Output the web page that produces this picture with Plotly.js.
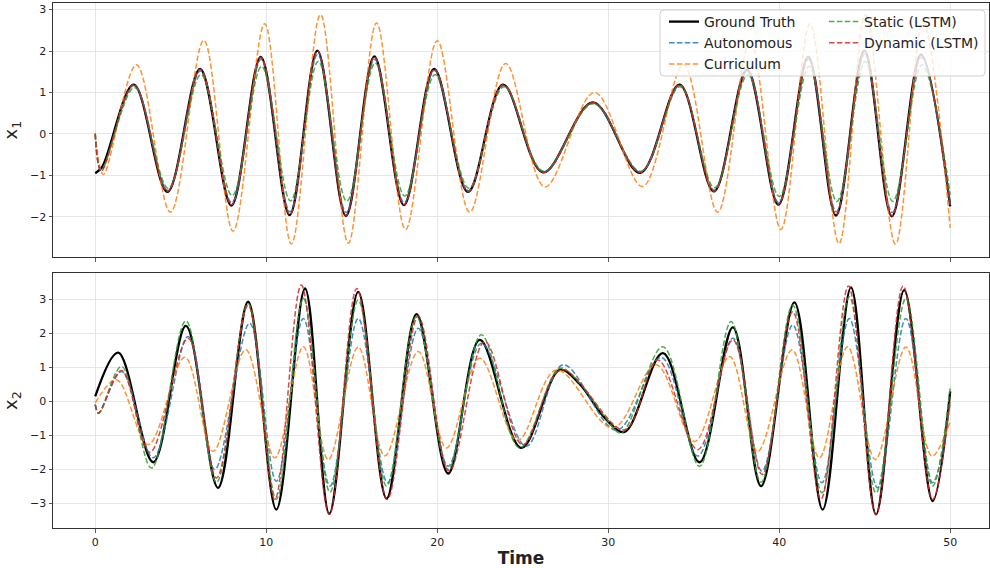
<!DOCTYPE html>
<html><head><meta charset="utf-8">
<script src="https://cdn.plot.ly/plotly-3.0.1.min.js"></script>
<style>html,body{margin:0;padding:0;background:#fff}#chart{width:990px;height:568px}</style>
</head><body><div id="chart"></div>
<script>
// ---------- Panel x1 ----------
const t_x1_truth = [0, 0.4, 2.25, 4.22, 6.13, 7.96, 9.68, 11.37, 12.99, 14.66, 16.32, 18.05, 19.82, 21.8, 23.85, 26.19, 29.1, 31.87, 34.17, 36.18, 38.12, 39.95, 41.7, 43.32, 44.98, 46.59, 48.29, 50];
const x1_truth   = [-0.95, -0.8, 1.19, -1.40, 1.57, -1.73, 1.86, -1.96, 2.01, -1.98, 1.87, -1.72, 1.57, -1.40, 1.19, -0.93, 0.76, -0.94, 1.19, -1.39, 1.55, -1.71, 1.86, -1.97, 2.01, -1.99, 1.91, -1.75];

const t_x1_auto = [0, 0.35, 2.27, 4.24, 6.15, 7.98, 9.70, 11.39, 13.01, 14.68, 16.34, 18.07, 19.84, 21.82, 23.87, 26.2, 29.1, 31.88, 34.18, 36.2, 38.14, 39.97, 41.72, 43.34, 45.0, 46.61, 48.31, 50];
const x1_auto   = [0.0, -0.88, 1.17, -1.36, 1.52, -1.66, 1.80, -1.88, 1.92, -1.90, 1.80, -1.66, 1.53, -1.37, 1.17, -0.92, 0.75, -0.92, 1.17, -1.36, 1.52, -1.66, 1.80, -1.88, 1.93, -1.90, 1.84, -1.72];

const t_x1_curr = [0, 0.47, 2.41, 4.4, 6.35, 8.06, 9.91, 11.47, 13.17, 14.8, 16.45, 18.15, 20.0, 21.9, 24.0, 26.3, 29.2, 32.0, 34.4, 36.4, 38.3, 40.1, 41.8, 43.5, 45.05, 46.8, 48.4, 50];
const x1_curr   = [0.02, -0.98, 1.67, -1.89, 2.26, -2.35, 2.66, -2.66, 2.88, -2.64, 2.68, -2.31, 2.25, -1.89, 1.70, -1.28, 1.00, -1.27, 1.67, -1.89, 2.25, -2.31, 2.66, -2.65, 2.88, -2.66, 2.70, -2.27];

const t_x1_static = [0, 0.35, 2.3, 4.27, 6.18, 8.01, 9.73, 11.42, 13.04, 14.71, 16.37, 18.1, 19.87, 21.85, 23.9, 26.22, 29.12, 31.9, 34.2, 36.22, 38.16, 40.0, 41.75, 43.37, 45.03, 46.64, 48.34, 50];
const x1_static   = [0.0, -0.86, 1.12, -1.31, 1.43, -1.49, 1.63, -1.62, 1.75, -1.63, 1.71, -1.50, 1.43, -1.31, 1.14, -0.90, 0.73, -0.90, 1.14, -1.30, 1.43, -1.51, 1.63, -1.63, 1.75, -1.63, 1.67, -1.47];

const t_x1_dyn = [0, 0.35, 2.26, 4.23, 6.14, 7.97, 9.69, 11.38, 13.0, 14.67, 16.33, 18.06, 19.83, 21.81, 23.86, 26.2, 29.1, 31.88, 34.18, 36.19, 38.13, 39.96, 41.71, 43.33, 44.99, 46.6, 48.3, 50];
const x1_dyn   = [0.0, -0.9, 1.19, -1.39, 1.56, -1.71, 1.85, -1.95, 2.0, -1.97, 1.86, -1.71, 1.56, -1.39, 1.19, -0.93, 0.76, -0.93, 1.19, -1.39, 1.55, -1.70, 1.86, -1.96, 2.0, -1.98, 1.90, -1.74];

// ---------- Panel x2 ----------
const t_x2_truth = [0, 1.34, 3.39, 5.3, 7.18, 8.94, 10.59, 12.27, 13.69, 15.38, 17.04, 18.79, 20.64, 22.49, 24.92, 27.16, 28.3, 29.8, 30.96, 33.2, 35.34, 37.29, 38.94, 40.89, 42.54, 44.2, 45.66, 47.31, 48.97, 50];
const x2_truth   = [0.14, 1.43, -1.79, 2.21, -2.54, 2.92, -3.18, 3.31, -3.30, 3.21, -2.86, 2.56, -2.12, 1.80, -1.37, 0.92, 0.52, -0.49, -0.90, 1.41, -1.79, 2.17, -2.49, 2.90, -3.18, 3.34, -3.32, 3.26, -2.93, 0.29];

const t_x2_auto = [0, 0.2, 1.54, 3.39, 5.43, 6.99, 9.03, 10.59, 12.17, 13.73, 15.38, 17.1, 18.89, 20.64, 22.58, 25.2, 27.36, 30.5, 33.1, 35.24, 37.29, 38.99, 40.79, 42.5, 44.1, 45.75, 47.41, 48.97, 50];
const x2_auto   = [-0.1, -0.35, 0.87, -1.66, 1.90, -2.0, 2.29, -2.35, 2.43, -2.49, 2.43, -2.39, 2.14, -1.91, 1.70, -1.32, 1.07, -0.85, 1.29, -1.61, 1.85, -2.05, 2.24, -2.39, 2.43, -2.54, 2.43, -2.39, -0.05];

const t_x2_curr = [0, 1.25, 3.1, 5.24, 6.89, 8.8, 10.5, 12.17, 13.63, 15.38, 16.94, 18.89, 20.54, 22.49, 24.7, 26.97, 30.28, 32.8, 35.05, 37.1, 38.74, 40.75, 42.35, 44.0, 45.62, 47.41, 48.93, 50];
const x2_curr   = [-0.05, 0.63, -1.27, 1.29, -1.47, 1.51, -1.66, 1.60, -1.71, 1.59, -1.60, 1.46, -1.37, 1.26, -1.15, 0.92, -0.78, 1.07, -1.18, 1.31, -1.47, 1.51, -1.66, 1.60, -1.71, 1.59, -1.61, -0.59];

const t_x2_static = [0, 0.2, 1.54, 3.29, 5.3, 7.09, 8.94, 10.59, 12.17, 13.73, 15.38, 17.04, 18.79, 20.64, 22.58, 24.82, 27.16, 28.3, 29.8, 30.76, 33.2, 35.34, 37.19, 38.94, 40.79, 42.5, 44.1, 45.66, 47.41, 48.97, 50];
const x2_static   = [-0.1, -0.35, 1.02, -1.96, 2.36, -2.38, 2.87, -2.88, 3.02, -2.67, 2.97, -2.49, 2.48, -2.0, 1.95, -1.37, 0.97, 0.55, -0.45, -0.93, 1.60, -1.91, 2.34, -2.38, 2.82, -2.69, 3.07, -2.69, 3.02, -2.49, 0.39];

const t_x2_dyn = [0, 0.2, 1.54, 3.19, 5.43, 7.09, 8.94, 10.5, 12.05, 13.69, 15.3, 17.08, 18.89, 20.7, 22.78, 25.0, 27.26, 30.96, 32.9, 35.24, 37.29, 39.0, 40.79, 42.44, 44.05, 45.66, 47.25, 48.97, 50];
const x2_dyn   = [-0.1, -0.35, 0.90, -1.50, 1.85, -2.25, 2.82, -2.88, 3.41, -3.32, 3.31, -2.88, 2.50, -2.05, 1.75, -1.28, 0.92, -0.84, 1.21, -1.42, 1.80, -2.15, 2.63, -2.88, 3.38, -3.32, 3.38, -2.88, 0.05];

const seriesNames = ["Ground Truth", "Autonomous", "Curriculum", "Static (LSTM)", "Dynamic (LSTM)"];
const seriesColors = ["#000000", "#1f77b4", "#ff7f0e", "#2ca02c", "#d62728"];
const xTicks = [0, 10, 20, 30, 40, 50];
const y1Ticks = [-2, -1, 0, 1, 2, 3];
const y2Ticks = [-3, -2, -1, 0, 1, 2, 3];

const panels = [
  {xa: 'x', ya: 'y', data: [[t_x1_truth, x1_truth], [t_x1_auto, x1_auto], [t_x1_curr, x1_curr], [t_x1_static, x1_static], [t_x1_dyn, x1_dyn]]},
  {xa: 'x2', ya: 'y2', data: [[t_x2_truth, x2_truth], [t_x2_auto, x2_auto], [t_x2_curr, x2_curr], [t_x2_static, x2_static], [t_x2_dyn, x2_dyn]]}
];

const traces = [];
panels.forEach((p, pi) => {
  p.data.forEach((d, si) => {
    const gt = si === 0;
    traces.push({
      type: 'scatter', mode: 'lines', x: d[0], y: d[1],
      xaxis: p.xa, yaxis: p.ya,
      name: seriesNames[si],
      legend: si >= 3 ? 'legend2' : 'legend',
      showlegend: pi === 0,
      opacity: gt ? 1 : 0.85,
      line: {color: seriesColors[si], width: gt ? 2.3 : 1.5, dash: gt ? 'solid' : '5.5px,2.4px', shape: 'spline', smoothing: 1},
      hoverinfo: 'skip'
    });
  });
});

const F = 'DejaVu Sans, Verdana, sans-serif';
const axCommon = {
  showline: true, mirror: true, linecolor: '#333', linewidth: 1,
  ticks: 'outside', ticklen: 3.5, tickwidth: 0.8, tickcolor: '#333',
  showgrid: true, gridcolor: '#e6e6e6', gridwidth: 1, zeroline: false,
  tickfont: {family: F, size: 11, color: '#222'}
};

// legend frame box (paper coords)
const W = 936, H = 525, L = 53, T = 3;
function px2x(px) { return (px - L) / W; }
function py2y(py) { return (T + H - py) / H; }
const bx0 = px2x(660), bx1 = px2x(985), by0 = py2y(76), by1 = py2y(10);
const rx = 4 / W, ry = 4 / H;
const boxPath = `M${bx0 + rx},${by1} L${bx1 - rx},${by1} Q${bx1},${by1} ${bx1},${by1 - ry} L${bx1},${by0 + ry} Q${bx1},${by0} ${bx1 - rx},${by0} L${bx0 + rx},${by0} Q${bx0},${by0} ${bx0},${by0 + ry} L${bx0},${by1 - ry} Q${bx0},${by1} ${bx0 + rx},${by1} Z`;

const layout = {
  width: 990, height: 568,
  margin: {l: 53, r: 1, t: 3, b: 40},
  paper_bgcolor: '#fff', plot_bgcolor: '#fff',
  font: {family: F, color: '#222'},
  xaxis: Object.assign({}, axCommon, {domain: [0, 1], anchor: 'y', range: [-2.47, 52.27], tickvals: xTicks, showticklabels: false}),
  yaxis: Object.assign({}, axCommon, {domain: [0.5156, 1], anchor: 'x', range: [-2.98, 3.16], tickvals: y1Ticks,
    ticktext: y1Ticks.map(v => v < 0 ? '\u2212' + Math.abs(v) : String(v)),
    title: {text: 'x<sub>1</sub>', font: {family: F, size: 18, color: '#222'}, standoff: 14}}),
  xaxis2: Object.assign({}, axCommon, {domain: [0, 1], anchor: 'y2', range: [-2.47, 52.27], tickvals: xTicks,
    title: {text: '<b>Time</b>', font: {family: F, size: 17, color: '#222'}, standoff: 9}}),
  yaxis2: Object.assign({}, axCommon, {domain: [0, 0.4851], anchor: 'x2', range: [-3.72, 3.755], tickvals: y2Ticks,
    ticktext: y2Ticks.map(v => v < 0 ? '\u2212' + Math.abs(v) : String(v)),
    title: {text: 'x<sub>2</sub>', font: {family: F, size: 18, color: '#222'}, standoff: 14}}),
  legend: {x: px2x(664), xanchor: 'left', y: py2y(6), yanchor: 'top', orientation: 'v',
    bgcolor: 'rgba(0,0,0,0)', borderwidth: 0, font: {family: F, size: 14, color: '#222'}, tracegroupgap: 0},
  legend2: {x: px2x(824), xanchor: 'left', y: py2y(6), yanchor: 'top', orientation: 'v',
    bgcolor: 'rgba(0,0,0,0)', borderwidth: 0, font: {family: F, size: 14, color: '#222'}, tracegroupgap: 0},
  shapes: [{type: 'path', xref: 'paper', yref: 'paper', path: boxPath, layer: 'above',
    fillcolor: 'rgba(255,255,255,0.8)', line: {color: '#d0d0d0', width: 1}}]
};

Plotly.newPlot('chart', traces, layout, {staticPlot: true, displayModeBar: false});
</script></body></html>
